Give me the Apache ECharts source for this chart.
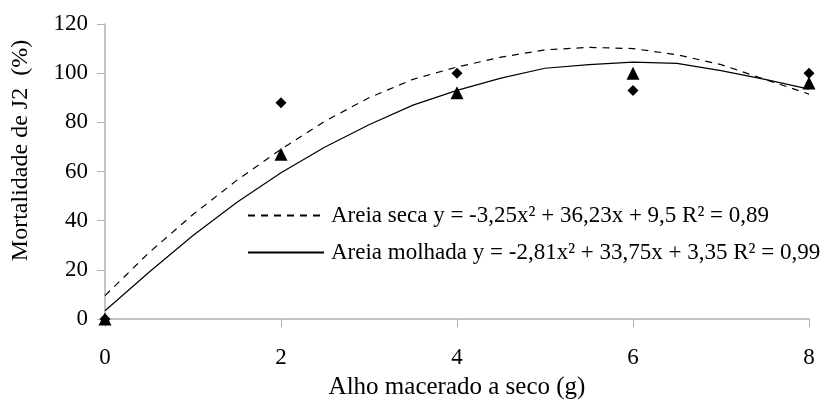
<!DOCTYPE html>
<html>
<head>
<meta charset="utf-8">
<script src="https://cdn.jsdelivr.net/npm/echarts@6/dist/echarts.min.js"></script>
<style>
  html, body { margin: 0; padding: 0; background: #fff; }
  #chart { width: 828px; height: 405px; }
</style>
</head>
<body>
<div id="chart"></div>
<script>
// dados observados
var doses = [0, 2, 4, 6, 8]
var secaObs = [0, 88, 100, 93, 100]
var molhadaObs = [0, 67, 92, 100, 96]

// linhas de tendencia
var trendX = [0, 0.5, 1, 1.5, 2, 2.5, 3, 3.5, 4, 4.5, 5, 5.5, 6, 6.5, 7, 7.5, 8]
var secaTrend = [9.5, 27, 42.5, 56.5, 69, 80.5, 90, 97.5, 102.5, 106.5, 109.5, 110.5, 110, 107.5, 103.5, 97.5, 91.5]
var molhadaTrend = [3.35, 19, 34, 47.5, 59.5, 70, 79, 87, 93, 98, 102, 103.5, 104.5, 104, 101, 97.5, 93.5]

var yTicks = [0, 20, 40, 60, 80, 100, 120]
var xTicks = [0, 2, 4, 6, 8]

var legendSeca = "Areia seca y = -3,25x² + 36,23x + 9,5 R² = 0,89"
var legendMolhada = "Areia molhada y = -2,81x² + 33,75x + 3,35 R² = 0,99"

function pairs(xs, ys) {
    return xs.map(function (x, i) { return [x, ys[i]] })
}

var font = "Liberation Serif"
var chart = echarts.init(document.getElementById("chart"))
var option = {
    animation: false,
    textStyle: { fontFamily: font, color: "#000" },
    grid: { left: 105, right: 19, top: 24, bottom: 86 },
    legend: {
        orient: "vertical",
        left: 242,
        top: 199,
        itemWidth: 76,
        itemHeight: 12,
        itemGap: 14,
        itemStyle: { opacity: 0 },
        textStyle: { fontFamily: font, fontSize: 23, color: "#000", padding: [0, 0, 0, 2] },
        data: [legendSeca, legendMolhada]
    },
    xAxis: {
        type: "value",
        min: 0, max: 8, interval: 2,
        name: "Alho macerado a seco (g)",
        nameLocation: "middle",
        nameGap: 56,
        nameTextStyle: { fontFamily: font, fontSize: 25, color: "#000" },
        axisLine: { lineStyle: { color: "#b0b0b0", width: 1.5 } },
        axisTick: { show: true, length: 8, lineStyle: { color: "#b0b0b0" } },
        axisLabel: {
            fontFamily: font, fontSize: 23, color: "#000", margin: 27,
            formatter: function (v) { return xTicks.indexOf(v) >= 0 ? String(v) : "" }
        },
        splitLine: { show: false }
    },
    yAxis: {
        type: "value",
        min: 0, max: 120, interval: 20,
        name: "Mortalidade de J2  (%)",
        nameLocation: "middle",
        nameGap: 72,
        nameTextStyle: { fontFamily: font, fontSize: 24, color: "#000", padding: [0, 0, 0, 42] },
        axisLine: { show: true, lineStyle: { color: "#b0b0b0", width: 1.5 } },
        axisTick: { show: true, length: 8, lineStyle: { color: "#b0b0b0" } },
        axisLabel: {
            fontFamily: font, fontSize: 23, color: "#000", margin: 17,
            formatter: function (v) { return yTicks.indexOf(v) >= 0 ? String(v) : "" }
        },
        splitLine: { show: false }
    },
    series: [
        {
            name: legendSeca,
            type: "line",
            data: pairs(trendX, secaTrend),
            showSymbol: false,
            symbol: "none",
            smooth: false,
            lineStyle: { color: "#000", width: 1.2, type: [7, 6] },
            itemStyle: { color: "#000" },
            z: 2
        },
        {
            name: legendMolhada,
            type: "line",
            data: pairs(trendX, molhadaTrend),
            showSymbol: false,
            symbol: "none",
            smooth: false,
            lineStyle: { color: "#000", width: 1.2 },
            itemStyle: { color: "#000" },
            z: 2
        },
        {
            name: "Areia seca",
            type: "scatter",
            data: pairs(doses, secaObs),
            symbol: "diamond",
            symbolSize: 11,
            itemStyle: { color: "#000", opacity: 1 },
            z: 3
        },
        {
            name: "Areia molhada",
            type: "scatter",
            data: pairs(doses, molhadaObs),
            symbol: "triangle",
            symbolSize: [13, 13],
            itemStyle: { color: "#000", opacity: 1 },
            z: 3
        }
    ]
}
chart.setOption(option)
</script>
</body>
</html>
